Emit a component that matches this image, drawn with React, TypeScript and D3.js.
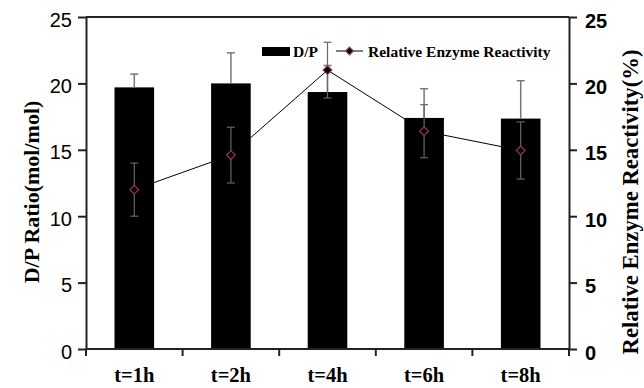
import React, { useEffect, useRef } from 'react';
import * as d3 from 'd3';

// chart data
const categories = ['t=1h', 't=2h', 't=4h', 't=6h', 't=8h'];
const dpRatio = [19.7, 20.0, 19.35, 17.4, 17.35];
const dpError = [1.0, 2.3, 2.0, 2.2, 2.85];
const enzyme = [12.0, 14.6, 21.0, 16.4, 14.95];
const enzymeError = [2.0, 2.1, 2.1, 2.0, 2.15];
const yTicks = [0, 5, 10, 15, 20, 25];

const App = () => {
  const chartRef = useRef<SVGSVGElement>(null);
  const W = 644;
  const H = 388;
  const margin = { top: 17, right: 75, bottom: 39, left: 86 };
  const width = W - margin.left - margin.right;
  const height = H - margin.top - margin.bottom;

  useEffect(() => {
    const root = d3.select(chartRef.current);
    root.selectAll('*').remove();
    const svg = root.append('g').attr('transform', `translate(${margin.left},${margin.top})`);

    const x = d3.scaleBand<string>().domain(categories).range([0, width]).paddingInner(0.59).paddingOuter(0.295);
    const xc = (i: number) => (x(categories[i]) as number) + x.bandwidth() / 2;
    const y = d3.scaleLinear().domain([0, 25]).range([height, 0]);
    const y2 = d3.scaleLinear().domain([0, 25]).range([height, 0]);

    // bars
    svg.selectAll('rect.bar')
      .data(dpRatio)
      .join('rect')
      .attr('class', 'bar')
      .attr('x', (d, i) => x(categories[i]) as number)
      .attr('y', d => y(d))
      .attr('width', x.bandwidth())
      .attr('height', d => height - y(d))
      .attr('fill', '#000');

    // D/P error bars (plus only)
    const dpErr = svg.append('g').attr('stroke', '#777').attr('stroke-width', 1.5);
    dpRatio.forEach((d, i) => {
      const cx = xc(i);
      dpErr.append('line').attr('x1', cx).attr('x2', cx).attr('y1', y(d)).attr('y2', y(d + dpError[i]));
      dpErr.append('line').attr('x1', cx - 4).attr('x2', cx + 4).attr('y1', y(d + dpError[i])).attr('y2', y(d + dpError[i]));
    });

    // enzyme line
    const line = d3.line<number>().x((d, i) => xc(i)).y(d => y2(d));
    svg.append('path').datum(enzyme).attr('fill', 'none').attr('stroke', '#000').attr('stroke-width', 1).attr('d', line);

    // enzyme error bars
    const enErr = svg.append('g').attr('stroke', '#666').attr('stroke-width', 1.2);
    enzyme.forEach((d, i) => {
      const cx = xc(i);
      const lo = y2(d - enzymeError[i]);
      const hi = y2(d + enzymeError[i]);
      enErr.append('line').attr('x1', cx).attr('x2', cx).attr('y1', lo).attr('y2', hi);
      enErr.append('line').attr('x1', cx - 4).attr('x2', cx + 4).attr('y1', lo).attr('y2', lo);
      enErr.append('line').attr('x1', cx - 4).attr('x2', cx + 4).attr('y1', hi).attr('y2', hi);
    });

    // markers
    const diamond = d3.symbol(d3.symbolSquare, 38);
    svg.selectAll('path.mark')
      .data(enzyme)
      .join('path')
      .attr('class', 'mark')
      .attr('d', diamond)
      .attr('transform', (d, i) => `translate(${xc(i)},${y2(d)}) rotate(45)`)
      .attr('fill', '#000')
      .attr('stroke', '#993366')
      .attr('stroke-width', 1.2);

    // frame / axes
    const axisColor = '#222';
    svg.append('line').attr('x1', 0).attr('x2', width).attr('y1', 0).attr('y2', 0).attr('stroke', axisColor).attr('stroke-width', 2);

    const left = svg.append('g').call(d3.axisLeft(y).tickValues(yTicks).tickSize(8).tickSizeOuter(0).tickPadding(6));
    left.select('.domain').attr('stroke', axisColor).attr('stroke-width', 2);
    left.selectAll('.tick line').attr('stroke', axisColor).attr('stroke-width', 2);
    left.selectAll('.tick text')
      .attr('font-family', '"Liberation Sans", Arial, sans-serif')
      .attr('font-size', 20)
      .attr('fill', '#000')
      .attr('dy', '0.45em');

    const right = svg.append('g').attr('transform', `translate(${width},0)`)
      .call(d3.axisRight(y2).tickValues(yTicks).tickSize(8).tickSizeOuter(0).tickPadding(8));
    right.select('.domain').attr('stroke', axisColor).attr('stroke-width', 2);
    right.selectAll('.tick line').attr('stroke', axisColor).attr('stroke-width', 2);
    right.selectAll('.tick text')
      .attr('font-family', '"Liberation Sans", Arial, sans-serif')
      .attr('font-weight', 'bold')
      .attr('font-size', 20)
      .attr('fill', '#000')
      .attr('dy', '0.5em');

    // bottom axis with ticks between categories
    const bottom = svg.append('g').attr('transform', `translate(0,${height})`);
    bottom.append('line').attr('x1', 0).attr('x2', width).attr('stroke', axisColor).attr('stroke-width', 2);
    d3.range(categories.length + 1).forEach(i => {
      const tx = (width / categories.length) * i;
      bottom.append('line').attr('x1', tx).attr('x2', tx).attr('y1', 0).attr('y2', 7).attr('stroke', axisColor).attr('stroke-width', 2);
    });
    bottom.selectAll('text.xl')
      .data(categories)
      .join('text')
      .attr('class', 'xl')
      .attr('x', (d, i) => xc(i))
      .attr('y', 33)
      .attr('text-anchor', 'middle')
      .attr('font-family', '"Liberation Serif", "Times New Roman", serif')
      .attr('font-weight', 'bold')
      .attr('font-size', 20.5)
      .text(d => d);

    // axis titles
    root.append('text')
      .attr('transform', `translate(39,${192}) rotate(-90)`)
      .attr('text-anchor', 'middle')
      .attr('font-family', '"Liberation Serif", "Times New Roman", serif')
      .attr('font-weight', 'bold')
      .attr('font-size', 22)
      .text('D/P Ratio(mol/mol)');
    root.append('text')
      .attr('transform', `translate(638,${202}) rotate(-90)`)
      .attr('text-anchor', 'middle')
      .attr('font-family', '"Liberation Serif", "Times New Roman", serif')
      .attr('font-weight', 'bold')
      .attr('font-size', 22.7)
      .text('Relative Enzyme Reactivity(%)');

    // legend
    const lg = root.append('g')
      .attr('font-family', '"Liberation Serif", "Times New Roman", serif')
      .attr('font-weight', 'bold')
      .attr('font-size', 15.5);
    lg.append('rect').attr('x', 262).attr('y', 47).attr('width', 28).attr('height', 9).attr('fill', '#000');
    lg.append('text').attr('x', 293).attr('y', 56.5).text('D/P');
    lg.append('line').attr('x1', 336).attr('x2', 363).attr('y1', 51).attr('y2', 51).attr('stroke', '#000').attr('stroke-width', 1);
    lg.append('path').attr('d', d3.symbol(d3.symbolSquare, 30)).attr('transform', 'translate(349.5,51) rotate(45)')
      .attr('fill', '#000').attr('stroke', '#993366').attr('stroke-width', 1.2);
    lg.append('text').attr('x', 368).attr('y', 56.5).text('Relative Enzyme Reactivity');
  }, []);

  return (
    <svg ref={chartRef} width={W} height={H} style={{ position: 'absolute', left: 0, top: 0, background: '#fff' }} />
  );
};

export default App;
